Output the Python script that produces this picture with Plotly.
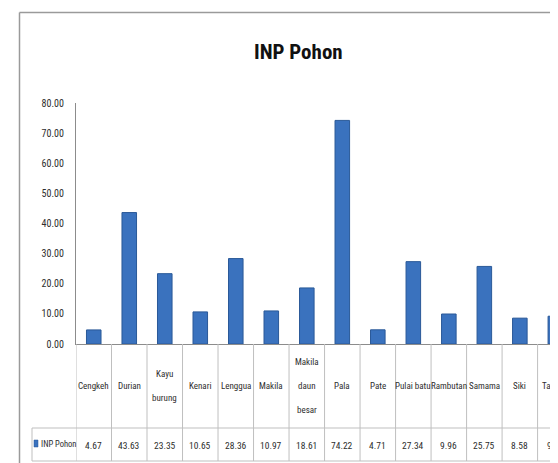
import plotly.graph_objects as go

categories = ["Cengkeh", "Durian", "Kayu burung", "Kenari", "Lenggua", "Makila",
              "Makila daun besar", "Pala", "Pate", "Pulai batu", "Rambutan",
              "Samama", "Siki", "Tawang"]
# how each category label wraps in the data table
cat_label_lines = [["Cengkeh"], ["Durian"], ["Kayu", "burung"], ["Kenari"], ["Lenggua"],
                   ["Makila"], ["Makila", "daun", "besar"], ["Pala"], ["Pate"],
                   ["Pulai batu"], ["Rambutan"], ["Samama"], ["Siki"], ["Tawang"]]
inp_values = [4.67, 43.63, 23.35, 10.65, 28.36, 10.97, 18.61, 74.22, 4.71, 27.34,
              9.96, 25.75, 8.58, 9.22]
y_ticks = [0, 10, 20, 30, 40, 50, 60, 70, 80]
series_name = "INP Pohon"
title_text = "INP Pohon"

W, H = 558, 463
L, R, T, B = 68, 0, 95, 127
plot_h = H - T - B
plot_w = W - L - R

def py(pix):  # pixel y -> paper y
    return (H - B - pix) / plot_h

def px(pix):  # pixel x -> paper x
    return (pix - L) / plot_w

FONT = "Roboto Condensed, Liberation Sans Narrow, Roboto, sans-serif"
BAR = "#3A72BE"
LINE = "#BFBFBF"
TXT = "#2E2E2E"

x_idx = list(range(len(categories)))

fig = go.Figure()
fig.add_trace(go.Bar(
    x=x_idx, y=inp_values, name=series_name, width=0.41,
    marker=dict(color=BAR, line=dict(color="#2A5998", width=1)),
    showlegend=False,
))

shapes = []
n = len(categories)
for i in range(n + 1):
    shapes.append(dict(type="line", xref="x", yref="paper", x0=i - 0.5, x1=i - 0.5,
                       y0=0, y1=py(453), line=dict(color=LINE, width=1)))
for yy in (420, 453):
    shapes.append(dict(type="line", xref="paper", yref="paper", x0=px(24), x1=1,
                       y0=py(yy), y1=py(yy), line=dict(color=LINE, width=1)))
shapes.append(dict(type="line", xref="paper", yref="paper", x0=px(24), x1=px(24),
                   y0=py(420), y1=py(453), line=dict(color=LINE, width=1)))
shapes.append(dict(type="rect", xref="paper", yref="paper", x0=px(26), x1=px(30),
                   y0=py(439), y1=py(432), fillcolor=BAR, line=dict(color="#2A5998", width=0.5)))
shapes.append(dict(type="line", xref="paper", yref="paper", x0=px(11.5), x1=px(11.5),
                   y0=py(4.5), y1=py(H + 5), line=dict(color="#9A9A9A", width=1.5)))
shapes.append(dict(type="line", xref="paper", yref="paper", x0=px(11.5), x1=px(W + 5),
                   y0=py(4.5), y1=py(4.5), line=dict(color="#9A9A9A", width=1.5)))

annotations = []
LINE_GAP = 24
for i, (lines, v) in enumerate(zip(cat_label_lines, inp_values)):
    k = len(lines)
    for j, part in enumerate(lines):
        ypix = 378 + (j - (k - 1) / 2) * LINE_GAP
        annotations.append(dict(x=i, y=py(ypix), xref="x", yref="paper", text=part,
                                showarrow=False, font=dict(family=FONT, size=9, color=TXT),
                                xanchor="center", yanchor="middle"))
    annotations.append(dict(x=i, y=py(437), xref="x", yref="paper", text=f"{v:.2f}",
                            showarrow=False, font=dict(family=FONT, size=9.5, color=TXT),
                            xanchor="center", yanchor="middle"))
annotations.append(dict(x=px(30.5), y=py(436), xref="paper", yref="paper", text=series_name,
                        showarrow=False, font=dict(family=FONT, size=8.5, color=TXT),
                        xanchor="left", yanchor="middle"))
annotations.append(dict(x=px(290), y=py(44), xref="paper", yref="paper",
                        text=f"<b>{title_text}</b>", showarrow=False,
                        font=dict(family=FONT, size=21, color="#111111"),
                        xanchor="center", yanchor="middle"))

fig.update_layout(
    width=W, height=H,
    margin=dict(l=L, r=R, t=T, b=B, autoexpand=False),
    paper_bgcolor="white", plot_bgcolor="white",
    shapes=shapes, annotations=annotations,
    xaxis=dict(range=[-0.5, 13.3], showticklabels=False, ticks="", showgrid=False,
               zeroline=False, showline=True, linecolor="#8C8C8C", linewidth=1),
    yaxis=dict(range=[0, 80], tickvals=y_ticks, tickformat=".2f", showgrid=False,
               zeroline=False, showline=True, linecolor="#8C8C8C", linewidth=1,
               ticks="", ticklabelstandoff=9,
               tickfont=dict(family=FONT, size=10, color=TXT)),
)

fig.write_html("out.html")
